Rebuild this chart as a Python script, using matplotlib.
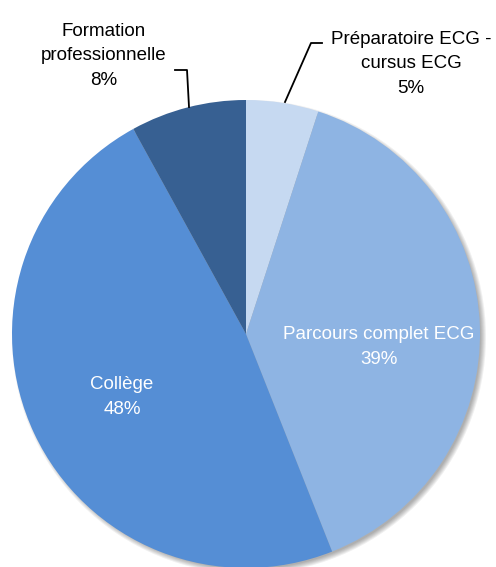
import matplotlib.pyplot as plt
import matplotlib.patches as patches
from matplotlib import font_manager

# data
labels = ['Préparatoire ECG -\ncursus ECG', 'Parcours complet ECG', 'Collège', 'Formation\nprofessionnelle']
values = [5, 39, 48, 8]
colors = ['#C6D9F1', '#8EB4E3', '#558ED5', '#376092']

W, H = 496, 567
names = {f.name for f in font_manager.fontManager.ttflist}
family = 'Liberation Sans Narrow' if 'Liberation Sans Narrow' in names else 'Liberation Sans'
plt.rcParams['font.family'] = [family, 'DejaVu Sans']

fig = plt.figure(figsize=(W / 100, H / 100), dpi=100)
ax = fig.add_axes([0, 0, 1, 1])

cx, cy, r = 246, H - 334, 234

# soft drop shadow
for k in range(6):
    ax.add_patch(patches.Circle((cx + 3, cy - 3), r + 3 - k, color='#000000', alpha=0.06, lw=0, zorder=0))

ax.pie(values, colors=colors, startangle=90, counterclock=False,
       center=(cx, cy), radius=r, wedgeprops=dict(linewidth=0))

# pie() resets the limits, so put the pixel frame back afterwards
ax.set_xlim(0, W)
ax.set_ylim(0, H)
ax.set_aspect('equal')
ax.axis('off')

pct = [f'{v}%' for v in values]
fs = 13.5
ls = 1.55

# inside labels
ax.text(379, H - 347, f'{labels[1]}\n{pct[1]}', ha='center', va='center', color='white',
        fontsize=fs, linespacing=ls)
ax.text(122, H - 397, f'{labels[2]}\n{pct[2]}', ha='center', va='center', color='white',
        fontsize=fs, linespacing=ls)

# outside labels with leader lines
ax.text(411, H - 64, f'{labels[0]}\n{pct[0]}', ha='center', va='center', color='black',
        fontsize=fs, linespacing=ls)
ax.plot([285, 311, 322], [H - 102, H - 43, H - 43], color='black', lw=1.3)

ax.text(104, H - 56, f'{labels[3]}\n{pct[3]}', ha='center', va='center', color='black',
        fontsize=fs, linespacing=ls)
ax.plot([175, 187, 189], [H - 70, H - 70, H - 107], color='black', lw=1.3)

fig.savefig('out.png', dpi=100)
